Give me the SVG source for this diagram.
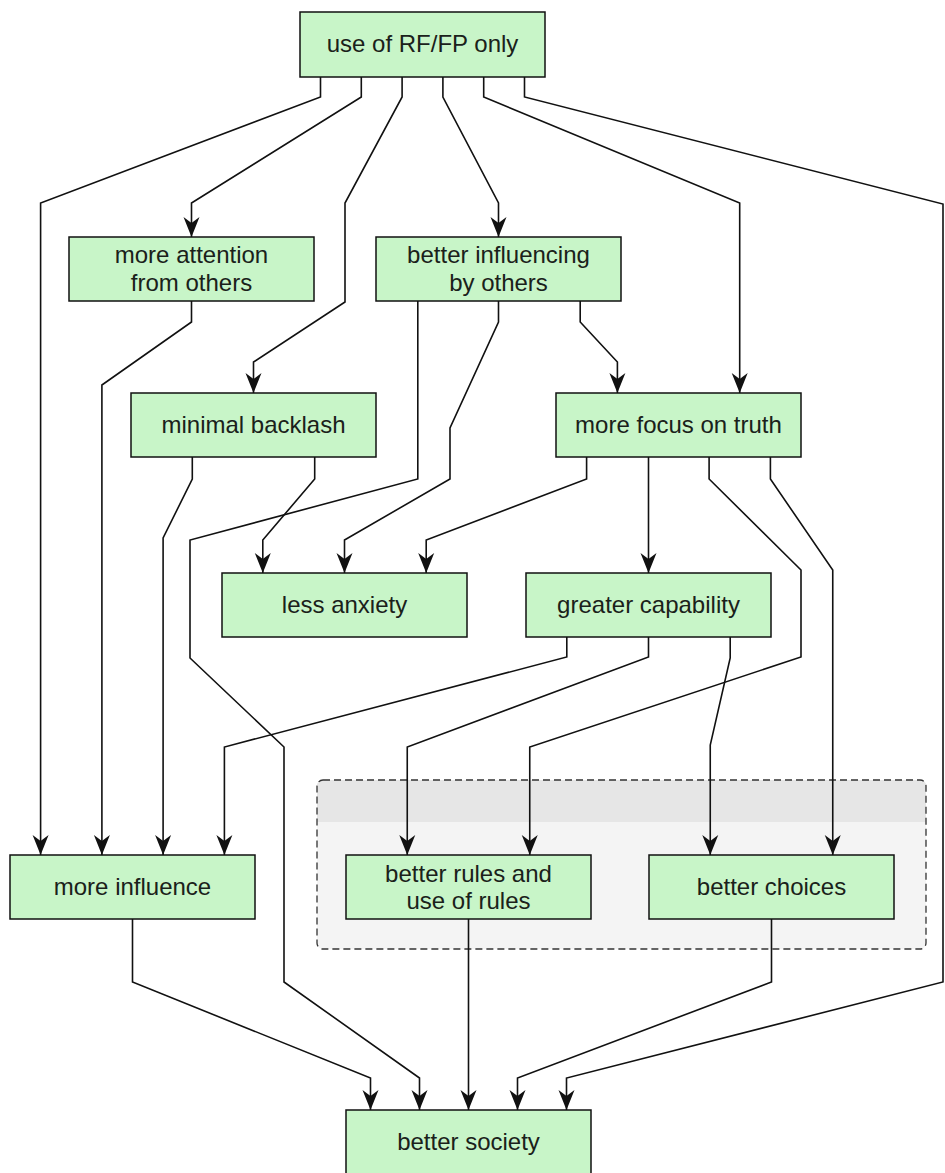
<svg xmlns="http://www.w3.org/2000/svg" width="945" height="1173" viewBox="0 0 945 1173">
<style>
.node rect{fill:#c8f5c8;stroke:#111;stroke-width:1.5}
.node text{font-family:"Liberation Sans",Arial,sans-serif;font-size:24px;fill:#1a211a;text-anchor:middle}
#connectors path{fill:none;stroke:#111;stroke-width:1.6;marker-end:url(#arr)}
</style>
<defs>
<marker id="arr" markerUnits="userSpaceOnUse" viewBox="-21 -9 22 18" markerWidth="22" markerHeight="18" refX="0" refY="0" orient="auto">
<path d="M0,0 L-20,-8 L-14,0 L-20,8 Z" fill="#111"/>
</marker>
</defs>
<rect width="945" height="1173" fill="#fff"/>
<g id="group-rules-choices">
<rect x="317" y="780" width="609" height="169" rx="6" fill="#f4f4f4"/>
<path d="M317,822 V786 Q317,780 323,780 H920 Q926,780 926,786 V822 Z" fill="#e6e6e6"/>
<rect x="317" y="780" width="609" height="169" rx="6" fill="none" stroke="#333" stroke-width="1.3" stroke-dasharray="7,4"/>
</g>
<g id="connectors">
<path d="M320.5,77 V97 L40.6,203 V855"/>
<path d="M361.3,77 V97 L191.5,203 V237"/>
<path d="M402.1,77 V97 L345,203 V302 L253.5,362 V393"/>
<path d="M442.9,77 V97 L498.5,203 V237"/>
<path d="M483.7,77 V97 L739.7,203 V393"/>
<path d="M524.5,77 V97 L943,204 V982 L566.5,1078 V1110"/>
<path d="M191.5,301 V322 L101.9,385 V855"/>
<path d="M417.8,301 V479 L190,540 V658 L284,747 V982 L419.5,1078 V1110"/>
<path d="M498.5,301 V322 L450,428 V479 L344.5,540 V573"/>
<path d="M580.2,301 V322 L617.4,362 V393"/>
<path d="M192.3,457 V479 L163.1,538 V855"/>
<path d="M314.7,457 V479 L262.8,540 V573"/>
<path d="M586.6,457 V479 L426.2,540 V573"/>
<path d="M648.5,457 V573"/>
<path d="M709.1,457 V479 L801,570 V657 L529.75,747 V855"/>
<path d="M770.4,457 V479 L832.75,570 V855"/>
<path d="M566.8,637 V657 L224.4,747 V855"/>
<path d="M648.5,637 V657 L407.25,747 V855"/>
<path d="M730.2,637 V658 L710.25,745 V855"/>
<path d="M132.5,919 V982 L370.5,1078 V1110"/>
<path d="M468.5,919 V1110"/>
<path d="M771.5,919 V982 L517.5,1078 V1110"/>
</g>
<g id="n-use" class="node"><rect x="300" y="12" width="245" height="65"/><text x="422.5" y="52">use of RF/FP only</text></g>
<g id="n-attention" class="node"><rect x="69" y="237" width="245" height="64"/><text x="191.5" y="263">more attention</text><text x="191.5" y="291">from others</text></g>
<g id="n-influencing" class="node"><rect x="376" y="237" width="245" height="64"/><text x="498.5" y="263">better influencing</text><text x="498.5" y="291">by others</text></g>
<g id="n-backlash" class="node"><rect x="131" y="393" width="245" height="64"/><text x="253.5" y="433">minimal backlash</text></g>
<g id="n-focus" class="node"><rect x="556" y="393" width="245" height="64"/><text x="678.5" y="433">more focus on truth</text></g>
<g id="n-anxiety" class="node"><rect x="222" y="573" width="245" height="64"/><text x="344.5" y="613">less anxiety</text></g>
<g id="n-capability" class="node"><rect x="526" y="573" width="245" height="64"/><text x="648.5" y="613">greater capability</text></g>
<g id="n-influence" class="node"><rect x="10" y="855" width="245" height="64"/><text x="132.5" y="895">more influence</text></g>
<g id="n-rules" class="node"><rect x="346" y="855" width="245" height="64"/><text x="468.5" y="882">better rules and</text><text x="468.5" y="909">use of rules</text></g>
<g id="n-choices" class="node"><rect x="649" y="855" width="245" height="64"/><text x="771.5" y="895">better choices</text></g>
<g id="n-society" class="node"><rect x="346" y="1110" width="245" height="64"/><text x="468.5" y="1150">better society</text></g>
</svg>
